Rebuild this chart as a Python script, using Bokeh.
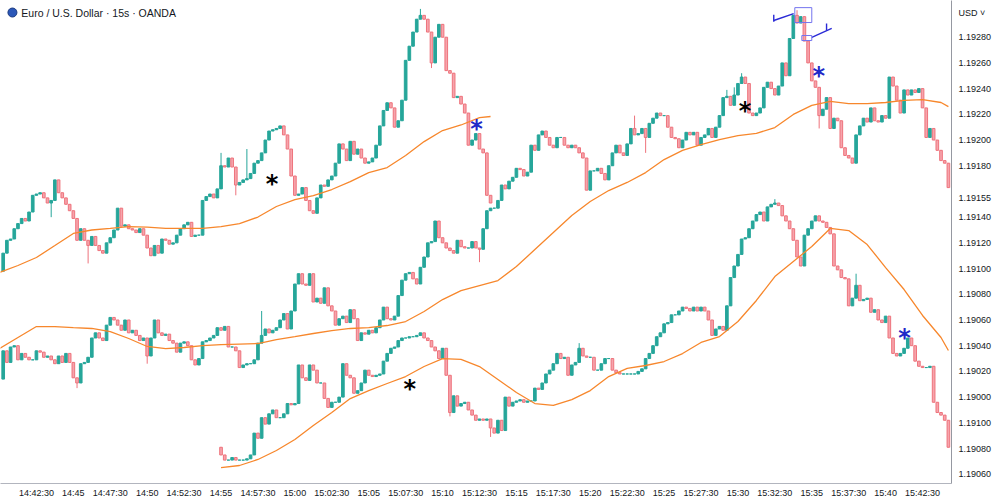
import numpy as np
from bokeh.plotting import figure
from bokeh.models import Range1d, FixedTicker
from bokeh.embed import file_html
from bokeh.resources import INLINE
from bokeh.core.properties import value

# x unit: index of the 15-second candle, 0 = 14:42:30
# y unit: points (0.00001) above 1.19000

time_ticks = list(range(0, 241, 10))
time_labels = ["14:42:30", "14:45", "14:47:30", "14:50", "14:52:30", "14:55", "14:57:30",
               "15:00", "15:02:30", "15:05", "15:07:30", "15:10", "15:12:30", "15:15",
               "15:17:30", "15:20", "15:22:30", "15:25", "15:27:30", "15:30", "15:32:30",
               "15:35", "15:37:30", "15:40", "15:42:30"]
price_ticks = [-60, -40, -20, 0, 20, 40, 60, 80, 100, 120, 140, 155, 180, 200, 220, 240, 260, 280, 298.8]
price_labels = ["1.19060", "1.19080", "1.19100", "1.19000", "1.19020", "1.19040", "1.19060",
                "1.19080", "1.19100", "1.19120", "1.19140", "1.19155", "1.19180", "1.19200",
                "1.19220", "1.19240", "1.19260", "1.19280", "USD  \u02c5"]

# ---- segment A (upper left) ----
a_start = -9
a_open0 = 98
a_close = [112, 122, 123, 131, 135, 139, 137, 144, 157, 158, 159, 155, 151, 153, 169, 159, 155, 150,
           145, 139, 122, 131, 122, 118, 125, 118, 114, 112, 120, 124, 130, 147, 133, 134, 131, 130,
           128, 131, 126, 116, 110, 118, 112, 123, 122, 119, 120, 126, 131, 134, 136, 125, 126, 126,
           153, 156, 158, 155, 162, 180, 179, 186, 179, 165, 167, 169, 170, 174, 182, 184, 190, 200,
           207, 208, 209, 211, 204, 193, 172, 157, 158, 163, 153, 145, 143, 155, 165, 164, 169, 172,
           182, 197, 193, 184, 199, 189, 193, 186, 182, 183, 186, 196, 211, 223, 229, 225, 210, 215,
           231, 262, 273, 284, 294, 297, 294, 284, 260, 280, 290, 280, 254, 252, 233, 234, 228, 221,
           196, 200, 205, 193, 190, 157, 151]
a_wicks = [(4, None, 140), (14, None, 104), (50, 190, None), (54, None, 157), (57, 193, None),
           (104, 302, None), (107, None, 256)]
a_ema_x = list(range(-10, 121, 5)) + [123]
a_ema = [97, 102.4, 108.6, 117.9, 127.3, 130, 131.2, 132.7, 132.3, 131.2, 131.2, 131.2, 132.7, 135,
         140.1, 148.3, 153.7, 156.8, 161.5, 167.7, 174.7, 178.6, 188, 198.8, 207.4, 211.7, 217.5, 218.3]

# ---- segment B (middle left, rising to upper right) ----
b_start = -9
b_open0 = 14
b_close = [36, 27, 39, 40, 29, 34, 31, 29, 29, 36, 35, 31, 32, 29, 26, 32, 27, 34, 27, 15, 11, 26, 27,
           31, 46, 50, 46, 44, 56, 62, 60, 56, 52, 60, 50, 52, 48, 44, 46, 32, 46, 60, 50, 48, 49, 44,
           42, 35, 42, 43, 40, 29, 25, 30, 43, 44, 46, 48, 54, 52, 55, 39, 39, 36, 23, 25, 26, 26, 29,
           42, 48, 53, 50, 52, 54, 60, 65, 53, 67, 88, 96, 88, 87, 96, 74, 77, 73, 85, 71, 67, 56, 61,
           63, 58, 68, 61, 44, 50, 49, 52, 50, 54, 60, 70, 61, 60, 63, 79, 91, 96, 97, 92, 88, 101, 109,
           120, 121, 137, 124, 120, 116, 114, 112, 122, 117, 116, 116, 121, 116, 115, 131, 145, 147,
           147, 153, 165, 162, 168, 171, 178, 177, 172, 175, 196, 192, 204, 207, 202, 196, 194, 202,
           202, 196, 194, 196, 194, 190, 186, 161, 176, 176, 178, 174, 169, 180, 190, 196, 190, 188,
           197, 209, 204, 205, 209, 202, 213, 217, 221, 219, 219, 210, 202, 201, 194, 200, 206, 204,
           206, 196, 202, 204, 209, 202, 210, 219, 233, 234, 227, 235, 244, 249, 244, 221, 219, 221,
           225, 241, 245, 240, 235, 242, 260, 250, 279, 297, 291, 296, 277, 260, 246, 241, 219, 224,
           233, 209, 217, 215, 194, 188, 186, 182, 204, 211, 217, 214, 225, 215, 214, 219, 217, 249,
           242, 231, 221, 239, 235, 239, 237, 240, 225, 202, 209, 200, 192, 184, 182, 163]
b_wicks = [(11, None, 7), (30, None, 26), (61, 67, None), (120, None, 105), (162, 219, None),
           (165, None, 190), (187, 239, None), (189, 241, None), (191, 252, None), (206, 301, None),
           (212, None, 209)]
b_ema_x = list(range(-10, 246, 5)) + [247]
b_ema = [37.8, 46.4, 54.9, 54.9, 54.1, 53.4, 51, 45.6, 39.4, 37.8, 38.6, 40.1, 40.9, 41.3, 41.7, 44.8,
         47.1, 49.5, 51.8, 53.4, 54.1, 55.7, 58.8, 66.6, 75.9, 82.9, 86.8, 90.7, 101.6, 114.8, 128,
         141.3, 152.2, 160.7, 167, 174.7, 184.8, 191.9, 196.5, 200.4, 203.5, 205.1, 209.7, 219.9,
         226.9, 230, 228.4, 228.4, 229.2, 230.8, 231.5, 229.2, 226]

# ---- segment C (lower) ----
c_start = 50
c_open0 = -39
c_close = [-45, -49, -49, -47, -49, -49, -49, -48, -45, -28, -32, -16, -21, -13, -10, -16, -16, -13,
           -5, -6, -5, 25, 15, 13, 25, 21, 11, 11, -1, -8, -4, -4, 0, 26, 17, 15, 3, 5, 11, 21, 17, 16,
           17, 18, 28, 34, 38, 39, 44, 46, 46, 47, 47, 48, 50, 46, 44, 39, 36, 30, 38, 17, -12, 1, -7,
           -5, -4, -10, -14, -18, -17, -18, -17, -24, -28, -18, -26, 0, -7, -4, -3, -2, -4, -3, -3, 7,
           6, 11, 18, 21, 26, 34, 30, 31, 17, 25, 27, 38, 32, 31, 31, 21, 21, 26, 30, 30, 21, 19, 18,
           18, 18, 18, 18, 20, 22, 30, 34, 40, 47, 50, 57, 58, 64, 64, 67, 70, 69, 67, 70, 67, 70, 67,
           60, 48, 53, 55, 52, 71, 93, 102, 111, 123, 124, 131, 137, 142, 144, 137, 148, 150, 151, 149,
           141, 137, 131, 122, 109, 102, 126, 131, 137, 141, 137, 136, 132, 127, 102, 99, 93, 92, 71,
           77, 87, 75, 76, 77, 66, 68, 60, 58, 63, 46, 34, 32, 34, 38, 46, 40, 28, 24, 23, 23, 24, -4,
           -12, -14, -18, -39]
c_wicks = [(112, None, -15), (123, None, -31), (147, 42, None), (200, 154, None), (222, 96, None)]
c_ema_x = list(range(50, 246, 5)) + [247]
c_ema = [-54.8, -53.2, -48.5, -41.5, -33, -22.1, -12, -1.1, 5.1, 10.6, 16, 23.8, 30, 29.3, 23.8, 13.7,
         3.6, -5, -6.5, -1.9, 5.1, 16, 22.3, 24.6, 27.7, 33.9, 42.5, 47.1, 58.8, 75.2, 93.8, 105.5,
         117.2, 131.2, 129.6, 118.7, 100.8, 83.7, 63.5, 46.4, 36.3]

# ---- marks drawn on the chart ----
black_star_x = [63.8, 101.1, 191.9]
black_star_y = [170.8, 10.6, 226.9]
blue_star_x = [119.2, 211.9, 235.1]
blue_star_y = [213.6, 254.1, 51.0]
draw_lines = [(199.7, 293.0, 205.1, 298.4), (199.7, 292.0, 199.7, 297.5),
              (210.0, 279.8, 215.4, 286.8), (214.0, 285.5, 214.0, 290.7)]
draw_boxes = [(205.4, 210.0, 291.4, 303.0), (207.3, 210.0, 277.4, 281.3)]
title_text = "Euro / U.S. Dollar \u00b7 15s \u00b7 OANDA"
title_pos = (-4.1, 299.2)
icon_pos = (-6.5, 299.2)

UP = "#26a69a"
DN_FILL = "#f6a4ac"
DN_LINE = "#ee737c"
EMA_COLOR = "#f7872c"

p = figure(width=994, height=500, output_backend="svg", toolbar_location=None,
           x_range=Range1d(-9.73, 247.84), y_range=Range1d(-67.2, 308.55),
           y_axis_location="right", min_border_left=0, min_border_top=0,
           min_border_right=41, min_border_bottom=17)
p.background_fill_color = "white"
p.border_fill_color = "white"
p.outline_line_color = None
p.xgrid.visible = False
p.ygrid.visible = False


def draw_candles(start, open0, closes, wicks):
    c = np.array(closes, dtype=float)
    o = np.concatenate([[open0], c[:-1]])
    x = start + np.arange(len(c))
    hi = np.maximum(o, c)
    lo = np.minimum(o, c)
    for i, h, l in wicks:
        k = i - start
        if 0 <= k < len(c):
            if h is not None:
                hi[k] = max(hi[k], h)
            if l is not None:
                lo[k] = min(lo[k], l)
    up = c >= o
    line = [UP if u else DN_LINE for u in up]
    fill = [UP if u else DN_FILL for u in up]
    p.segment(x0=x, y0=lo, x1=x, y1=hi, line_color=line, line_width=1)
    p.vbar(x=x, width=0.72, top=np.maximum(o, c), bottom=np.minimum(o, c),
           fill_color=fill, line_color=line, line_width=1)


draw_candles(a_start, a_open0, a_close, a_wicks)
draw_candles(b_start, b_open0, b_close, b_wicks)
draw_candles(c_start, c_open0, c_close, c_wicks)

for ex, ey in [(a_ema_x, a_ema), (b_ema_x, b_ema), (c_ema_x, c_ema)]:
    p.line(ex, ey, line_color=EMA_COLOR, line_width=1.3)

p.text(x=black_star_x, y=black_star_y, text=["*"] * 3, text_color="black",
       text_font=value("DejaVu Sans"), text_font_style="bold", text_font_size="24px",
       text_align="center", text_baseline="middle", y_offset=6)
p.text(x=blue_star_x, y=blue_star_y, text=["*"] * 3, text_color="#2128c8",
       text_font=value("DejaVu Sans"), text_font_style="bold", text_font_size="24px",
       text_align="center", text_baseline="middle", y_offset=6)

p.segment(x0=[l[0] for l in draw_lines], y0=[l[1] for l in draw_lines],
          x1=[l[2] for l in draw_lines], y1=[l[3] for l in draw_lines],
          line_color="#2a2ad6", line_width=1.4)
p.quad(left=[b[0] for b in draw_boxes], right=[b[1] for b in draw_boxes],
       bottom=[b[2] for b in draw_boxes], top=[b[3] for b in draw_boxes],
       fill_color=None, line_color="#7474ee", line_width=1)

# title and its icon
p.scatter(x=[icon_pos[0]], y=[icon_pos[1]], size=9, marker="circle", fill_color="#2b57b8",
          line_color="#1a3a80")
p.text(x=[title_pos[0]], y=[title_pos[1]], text=[title_text],
       text_font=value("Liberation Sans"), text_font_size="10.5px", text_color="#131722",
       text_baseline="middle", text_align="left")

# axes
AX_FONT = "Liberation Sans"
xa = p.xaxis[0]
xa.ticker = FixedTicker(ticks=time_ticks)
xa.major_label_overrides = dict(zip(time_ticks, time_labels))
xa.major_tick_out = 0
xa.major_tick_in = 0
xa.minor_tick_out = 0
xa.minor_tick_in = 0
xa.major_tick_line_color = None
xa.minor_tick_line_color = None
xa.axis_line_color = "#b2b5be"
xa.major_label_text_font = AX_FONT
xa.major_label_text_font_size = "9px"
xa.major_label_text_color = "#131722"
xa.major_label_standoff = 4

ya = p.yaxis[0]
ya.ticker = FixedTicker(ticks=price_ticks)
ya.major_label_overrides = dict(zip(price_ticks, price_labels))
ya.major_tick_out = 0
ya.major_tick_in = 0
ya.minor_tick_out = 0
ya.minor_tick_in = 0
ya.major_tick_line_color = None
ya.minor_tick_line_color = None
ya.axis_line_color = "#9598a1"
ya.major_label_text_font = AX_FONT
ya.major_label_text_font_size = "9px"
ya.major_label_text_color = "#131722"
ya.major_label_standoff = 7

open("out.html", "w").write(file_html(p, INLINE))
